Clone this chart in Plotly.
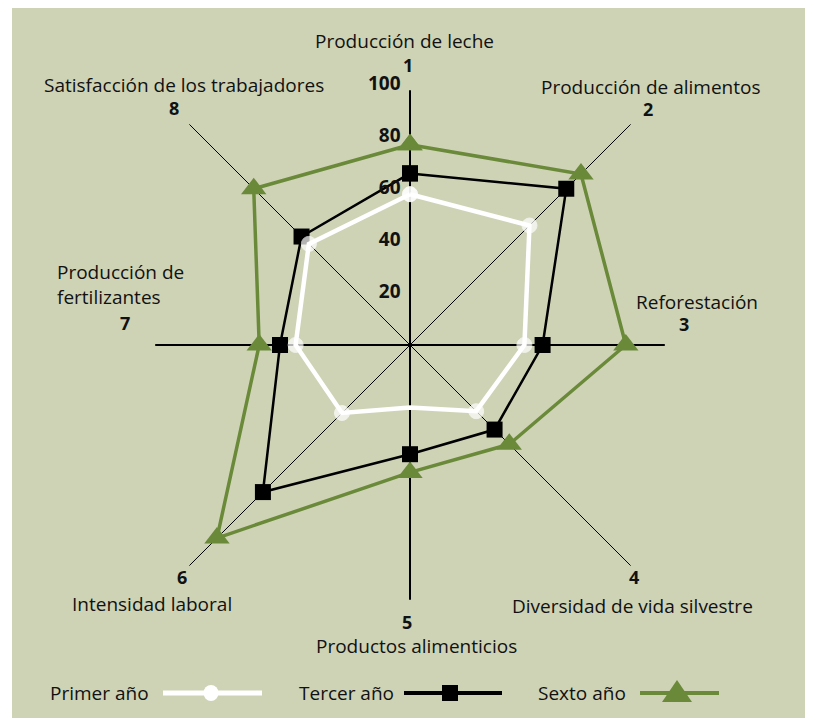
import numpy as np
import plotly.graph_objects as go

# ---------------- data ----------------
categories = [
    "Producción de leche",
    "Producción de alimentos",
    "Reforestación",
    "Diversidad de vida silvestre",
    "Productos alimenticios",
    "Intensidad laboral",
    "Producción de<br>fertilizantes",
    "Satisfacción de los trabajadores",
]
axis_numbers = ["1", "2", "3", "4", "5", "6", "7", "8"]
series_names = ["Primer año", "Tercer año", "Sexto año"]
primer = [58, 65, 44, 36, 24, 37, 44, 55]
tercer = [66, 85, 51, 46, 42, 80, 50, 59]
sexto = [77, 93, 83, 54, 49, 105, 58, 85]
tick_values = [20, 40, 60, 80, 100]
tick_labels = ["20", "40", "60", "80", "100"]

# ---------------- layout constants ----------------
W, H = 813, 718
OFF = 8                     # page offset of the figure in the browser
CX, CY = 410 - OFF, 345 - OFF
PX_PER_UNIT = 2.6
R_PX = 330
RMAX = R_PX / PX_PER_UNIT
SPOKE_MAIN = 98
SPOKE_DIAG = 120

BG = "#CED3B5"
GREEN = "#6A8A3A"
FONT = "Open Sans"
TXT = "#111111"

theta = (np.arange(len(categories)) * 360.0 / len(categories)).tolist()


def closed(v):
    return list(v) + [v[0]]


fig = go.Figure()

# spokes
for i, t in enumerate(theta):
    main = (i % 2 == 0)
    fig.add_trace(go.Scatterpolar(
        r=[0, SPOKE_MAIN if main else SPOKE_DIAG], theta=[t, t],
        mode="lines", line=dict(color="black", width=2 if main else 1),
        hoverinfo="skip", showlegend=False))

# series
fig.add_trace(go.Scatterpolar(
    r=closed(tercer), theta=closed(theta), name=series_names[1],
    mode="lines+markers", line=dict(color="black", width=2.5),
    marker=dict(symbol="square", size=16, color="black"), showlegend=False))

white_sizes = [15, 15, 15, 15, 0, 15, 15, 15]
fig.add_trace(go.Scatterpolar(
    r=closed(primer), theta=closed(theta), name=series_names[0],
    mode="lines+markers", line=dict(color="white", width=4.5),
    marker=dict(symbol="circle", size=closed(white_sizes), color="white"),
    showlegend=False))

fig.add_trace(go.Scatterpolar(
    r=closed(sexto), theta=closed(theta), name=series_names[2],
    mode="lines+markers", line=dict(color=GREEN, width=3.5),
    marker=dict(symbol="triangle-up", size=22, color=GREEN), showlegend=False))

# radial tick labels
fig.add_trace(go.Scatterpolar(
    r=tick_values, theta=[0] * len(tick_values), mode="text",
    text=[t + "\u2002" for t in tick_labels], textposition="middle left",
    textfont=dict(family=FONT, size=19, color=TXT, weight="bold"),
    hoverinfo="skip", showlegend=False))

fig.update_layout(
    width=W, height=H,
    margin=dict(l=0, r=0, t=0, b=0),
    paper_bgcolor="white",
    polar=dict(
        domain=dict(x=[(CX - R_PX) / W, (CX + R_PX) / W],
                    y=[(H - CY - R_PX) / H, (H - CY + R_PX) / H]),
        bgcolor="rgba(0,0,0,0)",
        radialaxis=dict(visible=False, range=[0, RMAX]),
        angularaxis=dict(visible=False, rotation=90, direction="clockwise"),
    ),
    showlegend=False,
)


def px(x):
    return (x - OFF) / W


def py(y):
    return 1 - (y - OFF) / H


shapes = [dict(type="rect", xref="paper", yref="paper", x0=px(12), x1=1,
               y0=0, y1=1, fillcolor=BG, line=dict(width=0), layer="below")]

# category label positions (pixels in the reference picture)
name_pos = [(404, 41, "center"), (650, 87, "center"), (697, 302, "center"),
            (632, 606, "center"), (416, 646, "center"), (152, 604, "center"),
            (55, 285, "left"), (184, 85, "center")]
num_pos = [(408, 65), (648, 109), (684, 324), (634, 577), (407, 622),
           (182, 577), (125, 323), (174, 108)]

annotations = []
for cat, (x, y, anc) in zip(categories, name_pos):
    annotations.append(dict(text=cat, x=px(x), y=py(y), xref="paper", yref="paper",
                            xanchor=anc, yanchor="middle", showarrow=False, align="left",
                            font=dict(family=FONT, size=19, color=TXT)))
for num, (x, y) in zip(axis_numbers, num_pos):
    annotations.append(dict(text="<b>%s</b>" % num, x=px(x), y=py(y), xref="paper",
                            yref="paper", xanchor="center", yanchor="middle",
                            showarrow=False, font=dict(family=FONT, size=18, color=TXT)))

# custom legend
LY = 693
leg = [
    (series_names[0], 151, (163, 262), "white", 5, "circle", 211),
    (series_names[1], 396, (404, 502), "black", 4, "square", 450),
    (series_names[2], 628, (640, 719), GREEN, 4, "triangle", 677),
]
for name, tx, (x0, x1), col, lw, sym, mx in leg:
    annotations.append(dict(text=name, x=px(tx), y=py(LY), xref="paper", yref="paper",
                            xanchor="right", yanchor="middle", showarrow=False,
                            font=dict(family=FONT, size=19, color=TXT)))
    shapes.append(dict(type="line", xref="paper", yref="paper", x0=px(x0), x1=px(x1),
                       y0=py(LY), y1=py(LY), line=dict(color=col, width=lw)))
    common = dict(xref="paper", yref="paper", xsizemode="pixel", ysizemode="pixel",
                  xanchor=px(mx), yanchor=py(LY), fillcolor=col, line=dict(width=0))
    if sym == "circle":
        shapes.append(dict(type="circle", x0=-7.5, x1=7.5, y0=-8, y1=8, **common))
    elif sym == "square":
        shapes.append(dict(type="rect", x0=-8, x1=8, y0=-8, y1=8, **common))
    else:
        shapes.append(dict(type="path", path="M-15,-9 L15,-9 L0,13 Z", **common))

fig.update_layout(shapes=shapes, annotations=annotations)
fig.write_html("out.html")
